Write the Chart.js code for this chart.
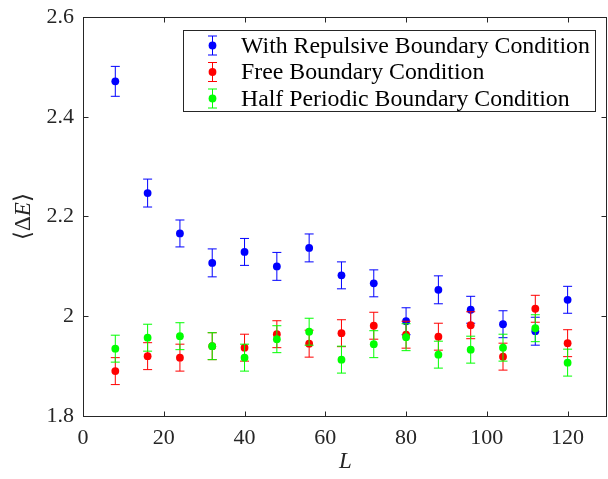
<!DOCTYPE html>
<html>
<head>
<meta charset="utf-8">
<script src="https://cdn.jsdelivr.net/npm/chart.js@4"></script>
<style>
html, body { margin: 0; padding: 0; background: #fff; }
#wrap { width: 608px; height: 479px; }
</style>
</head>
<body>
<div id="wrap"><canvas id="chart"></canvas></div>
<script>
// system sizes L
const sizes = [8, 16, 24, 32, 40, 48, 56, 64, 72, 80, 88, 96, 104, 112, 120];

// <dE> per boundary condition, with error bars
const repulsive    = [2.471, 2.247, 2.166, 2.107, 2.129, 2.100, 2.137, 2.082, 2.066, 1.990, 2.053, 2.013, 1.984, 1.970, 2.033];
const repulsiveErr = [0.030, 0.028, 0.027, 0.028, 0.027, 0.028, 0.028, 0.027, 0.027, 0.027, 0.028, 0.027, 0.027, 0.028, 0.027];
const free         = [1.890, 1.920, 1.917, 1.940, 1.937, 1.964, 1.945, 1.966, 1.981, 1.963, 1.959, 1.982, 1.919, 2.015, 1.946];
const freeErr      = [0.027, 0.027, 0.027, 0.027, 0.027, 0.027, 0.027, 0.027, 0.027, 0.027, 0.027, 0.027, 0.027, 0.027, 0.027];
const halfPeriodic = [1.935, 1.957, 1.960, 1.940, 1.917, 1.954, 1.969, 1.913, 1.944, 1.958, 1.923, 1.933, 1.937, 1.976, 1.907];
const halfErr      = [0.027, 0.027, 0.027, 0.027, 0.027, 0.027, 0.027, 0.027, 0.027, 0.027, 0.027, 0.027, 0.027, 0.027, 0.027];

const xTicks = [0, 20, 40, 60, 80, 100, 120];
const yTicks = [1.8, 2.0, 2.2, 2.4, 2.6];

const axisColor = '#262626';
const serif = '"Liberation Serif", "DejaVu Serif", serif';

function points(vals) {
    return sizes.map((L, i) => ({x: L, y: vals[i]}));
}

function series(label, vals, errs, color, order) {
    return {
        label: label,
        data: points(vals),
        errors: errs,
        backgroundColor: color,
        borderColor: color,
        pointRadius: 3.9,
        pointHoverRadius: 3.9,
        borderWidth: 0,
        showLine: false,
        order: order
    };
}

// no extra room for overflowing tick labels
function noPad(s) {
    s.paddingTop = 0; s.paddingBottom = 0;
    s.paddingLeft = 0; s.paddingRight = 0;
}

// error bars under each series' own markers
const errorBars = {
    id: 'errorBars',
    beforeDatasetDraw(chart, args) {
        const ds = chart.data.datasets[args.index];
        const xs = chart.scales.x, ys = chart.scales.y;
        const ctx = chart.ctx;
        ctx.save();
        ctx.strokeStyle = ds.borderColor;
        ctx.lineWidth = 1;
        ds.data.forEach((p, i) => {
            const px = xs.getPixelForValue(p.x);
            const top = ys.getPixelForValue(p.y + ds.errors[i]);
            const bot = ys.getPixelForValue(p.y - ds.errors[i]);
            ctx.beginPath();
            ctx.moveTo(px, top); ctx.lineTo(px, bot);
            ctx.moveTo(px - 4.5, top); ctx.lineTo(px + 4.5, top);
            ctx.moveTo(px - 4.5, bot); ctx.lineTo(px + 4.5, bot);
            ctx.stroke();
        });
        ctx.restore();
    }
};

// box, inward ticks, axis titles and legend in matlab style
const frame = {
    id: 'frame',
    afterDraw(chart) {
        const ctx = chart.ctx;
        const a = chart.chartArea;
        const xs = chart.scales.x, ys = chart.scales.y;
        const left = Math.round(a.left) + 0.5;
        const right = Math.min(Math.round(a.right), 607) - 0.5;
        const top = Math.round(a.top) + 0.5;
        const bottom = Math.round(a.bottom) + 0.5;
        ctx.save();
        ctx.strokeStyle = axisColor;
        ctx.lineWidth = 1;
        ctx.strokeRect(left, top, right - left, bottom - top);
        ctx.beginPath();
        xTicks.forEach(v => {
            const px = Math.round(xs.getPixelForValue(v)) + 0.5;
            ctx.moveTo(px, bottom); ctx.lineTo(px, bottom - 5);
            ctx.moveTo(px, top); ctx.lineTo(px, top + 5);
        });
        yTicks.forEach(v => {
            const py = Math.round(ys.getPixelForValue(v)) + 0.5;
            ctx.moveTo(left, py); ctx.lineTo(left + 5, py);
            ctx.moveTo(right, py); ctx.lineTo(right - 5, py);
        });
        ctx.stroke();

        // axis titles
        ctx.fillStyle = axisColor;
        ctx.textBaseline = 'middle';
        ctx.textAlign = 'center';
        ctx.font = 'italic 23px ' + serif;
        ctx.fillText('L', (a.left + a.right) / 2, 462);

        ctx.save();
        ctx.translate(24, (a.top + a.bottom) / 2);
        ctx.rotate(-Math.PI / 2);
        const parts = [['⟨Δ', '23px '], ['E', 'italic 23px '], ['⟩', '23px ']];
        let w = 0;
        parts.forEach(p => { ctx.font = p[1] + serif; w += ctx.measureText(p[0]).width; });
        let cx = -w / 2;
        ctx.textAlign = 'left';
        parts.forEach(p => {
            ctx.font = p[1] + serif;
            ctx.fillText(p[0], cx, 0);
            cx += ctx.measureText(p[0]).width;
        });
        ctx.restore();

        // legend
        const lx = 183.5, ly = 30.5, lw = 412, lh = 81;
        ctx.fillStyle = '#fff';
        ctx.fillRect(lx, ly, lw, lh);
        ctx.strokeStyle = axisColor;
        ctx.strokeRect(lx, ly, lw, lh);
        ctx.textAlign = 'left';
        chart.data.datasets.forEach((ds, i) => {
            const cy = 45.5 + i * 26.5;
            const ix = 212.5;
            ctx.strokeStyle = ds.borderColor;
            ctx.beginPath();
            ctx.moveTo(ix, cy - 9.5); ctx.lineTo(ix, cy + 9.5);
            ctx.moveTo(ix - 4.5, cy - 9.5); ctx.lineTo(ix + 4.5, cy - 9.5);
            ctx.moveTo(ix - 4.5, cy + 9.5); ctx.lineTo(ix + 4.5, cy + 9.5);
            ctx.stroke();
            ctx.fillStyle = ds.backgroundColor;
            ctx.beginPath();
            ctx.arc(ix, cy, 3.9, 0, Math.PI * 2);
            ctx.fill();
            ctx.fillStyle = '#000';
            ctx.save();
            ctx.translate(241, cy + 1);
            ctx.scale(1.035, 1);
            ctx.font = '23px ' + serif;
            ctx.fillText(ds.label, 0, 0);
            ctx.restore();
        });
        ctx.restore();
    }
};

const ctx = document.getElementById('chart').getContext('2d');
const myChart = new Chart(ctx, {
    type: 'scatter',
    data: {
        datasets: [
            series('With Repulsive Boundary Condition', repulsive, repulsiveErr, '#0000ff', 2),
            series('Free Boundary Condition', free, freeErr, '#ff0000', 1),
            series('Half Periodic Boundary Condition', halfPeriodic, halfErr, '#00ff00', 0)
        ]
    },
    plugins: [errorBars, frame],
    options: {
        responsive: true,
        maintainAspectRatio: false,
        animation: false,
        layout: { autoPadding: false, padding: { top: 17, right: 0, left: 0, bottom: 0 } },
        plugins: {
            legend: { display: false },
            tooltip: { enabled: false }
        },
        scales: {
            x: {
                type: 'linear',
                min: 0,
                max: 130,
                afterBuildTicks: s => { s.ticks = xTicks.map(v => ({value: v})); },
                afterFit: s => { s.height = 63; noPad(s); },
                grid: { display: false, drawTicks: false },
                border: { display: false },
                ticks: {
                    padding: 9,
                    color: axisColor,
                    font: { family: serif, size: 22 }
                }
            },
            y: {
                type: 'linear',
                min: 1.8,
                max: 2.6,
                afterBuildTicks: s => { s.ticks = yTicks.map(v => ({value: v})); },
                afterFit: s => { s.width = 83; noPad(s); },
                grid: { display: false, drawTicks: false },
                border: { display: false },
                ticks: {
                    padding: 9,
                    color: axisColor,
                    font: { family: serif, size: 22 },
                    callback: v => String(+v.toFixed(1))
                }
            }
        }
    }
});
</script>
</body>
</html>
